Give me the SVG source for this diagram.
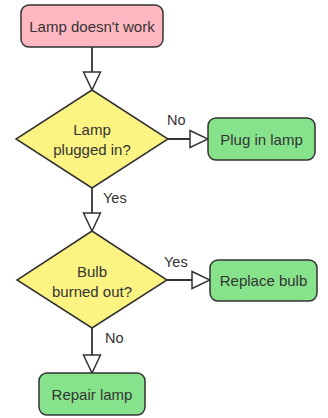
<svg xmlns="http://www.w3.org/2000/svg" width="328" height="418" viewBox="0 0 328 418">
<style>
.box{stroke:#333;stroke-width:1.5}
.start{fill:#ffb7c1}
.dec{fill:#fbf482}
.act{fill:#87e38b}
.t{font-family:"Liberation Sans",Arial,sans-serif;font-size:15px;fill:#333;text-anchor:middle;dominant-baseline:central}
.lbl{font-family:"Liberation Sans",Arial,sans-serif;font-size:14.5px;fill:#333}
.c{stroke:#333;stroke-width:1.8;fill:none;marker-end:url(#arr)}
</style>
<defs>
<marker id="arr" viewBox="0 0 20 20" markerWidth="20" markerHeight="20" refX="19" refY="10" orient="auto" markerUnits="userSpaceOnUse">
<path d="M1,1.5 L19,10 L1,18.5 Z" fill="#fff" stroke="#333" stroke-width="1.5"/>
</marker>
</defs>
<rect width="328" height="418" fill="#fff"/>
<g id="connectors">
<line class="c" x1="92" y1="47" x2="92" y2="90"/>
<line class="c" x1="168" y1="139" x2="208" y2="139"/>
<line class="c" x1="92" y1="188" x2="92" y2="231"/>
<line class="c" x1="167" y1="280" x2="210" y2="280"/>
<line class="c" x1="92" y1="328" x2="92" y2="373"/>
<text class="lbl" x="167" y="125">No</text>
<text class="lbl" x="103" y="203">Yes</text>
<text class="lbl" x="164" y="267">Yes</text>
<text class="lbl" x="105" y="343">No</text>
</g>
<g id="start">
<rect class="box start" x="21" y="5" width="142" height="42" rx="8"/>
<text class="t" x="92" y="26">Lamp doesn't work</text>
</g>
<g id="plugged">
<polygon class="box dec" points="92,90 168,139 92,188 16,139"/>
<text class="t" x="92" y="129">Lamp</text>
<text class="t" x="92" y="149">plugged in?</text>
</g>
<g id="plugin">
<rect class="box act" x="208" y="118" width="107" height="42" rx="8"/>
<text class="t" x="261.5" y="139">Plug in lamp</text>
</g>
<g id="burned">
<polygon class="box dec" points="92,231 167,280 92,328 17,280"/>
<text class="t" x="92" y="271">Bulb</text>
<text class="t" x="92" y="291">burned out?</text>
</g>
<g id="replace">
<rect class="box act" x="210" y="260" width="107" height="41" rx="8"/>
<text class="t" x="263.5" y="280.5">Replace bulb</text>
</g>
<g id="repair">
<rect class="box act" x="39" y="373" width="106" height="42" rx="8"/>
<text class="t" x="92" y="394">Repair lamp</text>
</g>
</svg>
